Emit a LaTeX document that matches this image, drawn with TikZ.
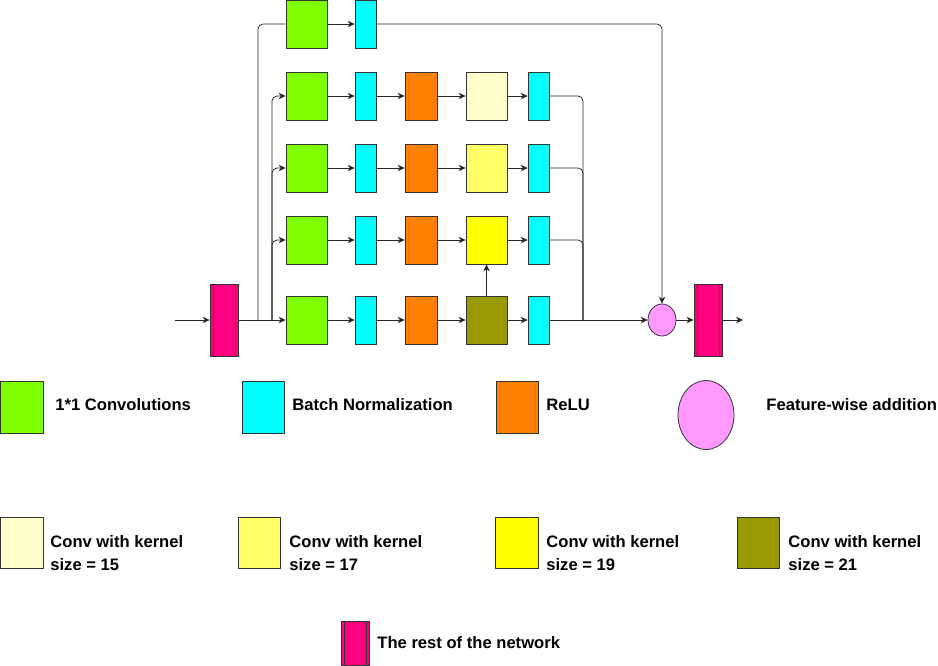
\documentclass[tikz,border=0pt]{standalone}
\usepackage{fontspec}
\setmainfont{Liberation Sans}
\usetikzlibrary{shapes.geometric, arrows.meta}
\definecolor{convgreen}{RGB}{128,255,0}
\definecolor{normcyan}{RGB}{0,255,255}
\definecolor{reluorange}{RGB}{255,128,0}
\definecolor{kfifteen}{RGB}{255,255,204}
\definecolor{kseventeen}{RGB}{255,255,102}
\definecolor{knineteen}{RGB}{255,255,0}
\definecolor{ktwentyone}{RGB}{153,153,0}
\definecolor{netpink}{RGB}{255,0,128}
\definecolor{addpink}{RGB}{255,153,255}
\tikzstyle{block} = [rectangle, draw = black!80, inner sep = 0pt, minimum
  height = 48pt]
\tikzstyle{conv} = [block, minimum width = 41pt, fill = convgreen]
\tikzstyle{norm} = [block, minimum width = 21pt, fill = normcyan]
\tikzstyle{relu} = [block, minimum width = 32pt, fill = reluorange]
\tikzstyle{kernel} = [block, minimum width = 41pt]
\tikzstyle{network} = [rectangle, draw = black!80, inner sep = 0pt, minimum
  width = 28pt, minimum height = 72pt, fill = netpink, path picture = {
    \draw [black!80] ([xshift = 3pt]path picture bounding box.north west) --
    ([xshift = 3pt]path picture bounding box.south west)
    ([xshift = -3pt]path picture bounding box.north east) --
    ([xshift = -3pt]path picture bounding box.south east);}]
\tikzstyle{addition} = [ellipse, draw = black!80, fill = addpink, inner sep =
  0pt, minimum width = 28pt, minimum height = 32pt]
\tikzstyle{keytext} = [anchor = west, align = left, inner sep = 0pt, text =
  black, font = \bfseries\fontsize{16.6}{23}\selectfont]
\tikzstyle{arrow} = [->, >={Stealth[length = 7pt, width = 6.5pt]}]
\tikzstyle{link} = [rounded corners = 5pt]

\begin{document}
\begin{tikzpicture}[x = 1pt, y = -1pt, line width = 0.8pt, color = black!85]
  \useasboundingbox (0, 0) rectangle (938, 665);

  % main blocks
  \coordinate (input) at (175, 320);
  \node (rest-1) [network] at (224, 320) {};
  \node (conv-1) [conv] at (306.5, 96) {};
  \node (norm-1a) [norm] at (365.5, 96) {};
  \node (relu-1) [relu] at (421, 96) {};
  \node (kernel-1) [kernel, fill = kfifteen] at (486.5, 96) {};
  \node (norm-1b) [norm] at (538.5, 96) {};

  \begin{scope}[node distance = 72pt]
    \node (conv-0) [conv, above of = conv-1] {};
    \node (norm-0) [norm, above of = norm-1a] {};
    \node (conv-2) [conv, below of = conv-1] {};
    \node (norm-2a) [norm, below of = norm-1a] {};
    \node (relu-2) [relu, below of = relu-1] {};
    \node (kernel-2) [kernel, fill = kseventeen, below of = kernel-1] {};
    \node (norm-2b) [norm, below of = norm-1b] {};
    \node (conv-3) [conv, below of = conv-2] {};
    \node (norm-3a) [norm, below of = norm-2a] {};
    \node (relu-3) [relu, below of = relu-2] {};
    \node (kernel-3) [kernel, fill = knineteen, below of = kernel-2] {};
    \node (norm-3b) [norm, below of = norm-2b] {};
  \end{scope}
  \begin{scope}[node distance = 80pt]
    \node (conv-4) [conv, below of = conv-3] {};
    \node (norm-4a) [norm, below of = norm-3a] {};
    \node (relu-4) [relu, below of = relu-3] {};
    \node (kernel-4) [kernel, fill = ktwentyone, below of = kernel-3] {};
    \node (norm-4b) [norm, below of = norm-3b] {};
  \end{scope}

  \node (sum) [addition] at (662, 320) {};
  \node (rest-2) [network] at (708, 320) {};
  \coordinate (output) at (743, 320);
  \coordinate (split-a) at (258, 320);
  \coordinate (split-b) at (272, 320);
  \coordinate (merge) at (583, 320);

  % connectors
  \draw [arrow] (input) -- (rest-1);
  \draw [arrow] (rest-1) -- (conv-4);
  \draw [link] (split-a) |- (conv-0);
  \draw [arrow, link] (split-b) |- (conv-1);
  \draw [arrow, link] (split-b) |- (conv-2);
  \draw [arrow, link] (split-b) |- (conv-3);
  \draw [arrow] (conv-0) -- (norm-0);
  \draw [arrow, link] (norm-0) -| (sum);

  \draw [arrow] (conv-1) -- (norm-1a);
  \draw [arrow] (norm-1a) -- (relu-1);
  \draw [arrow] (relu-1) -- (kernel-1);
  \draw [arrow] (kernel-1) -- (norm-1b);
  \draw [arrow] (conv-2) -- (norm-2a);
  \draw [arrow] (norm-2a) -- (relu-2);
  \draw [arrow] (relu-2) -- (kernel-2);
  \draw [arrow] (kernel-2) -- (norm-2b);
  \draw [arrow] (conv-3) -- (norm-3a);
  \draw [arrow] (norm-3a) -- (relu-3);
  \draw [arrow] (relu-3) -- (kernel-3);
  \draw [arrow] (kernel-3) -- (norm-3b);
  \draw [arrow] (conv-4) -- (norm-4a);
  \draw [arrow] (norm-4a) -- (relu-4);
  \draw [arrow] (relu-4) -- (kernel-4);
  \draw [arrow] (kernel-4) -- (norm-4b);
  \draw [arrow] (kernel-4) -- (kernel-3);

  \draw [link] (norm-1b) -| (merge);
  \draw [link] (norm-2b) -| (merge);
  \draw [link] (norm-3b) -| (merge);
  \draw [arrow] (norm-4b) -- (sum);
  \draw [arrow] (sum) -- (rest-2);
  \draw [arrow] (rest-2) -- (output);

  % legend
  \node (key-conv) [conv, minimum width = 43pt, minimum height = 52pt] at
    (21.5, 407) {};
  \node (text-conv) [keytext] at (55, 405) {1*1 Convolutions};
  \node (key-norm) [norm, minimum width = 42pt, minimum height = 52pt] at
    (263, 407) {};
  \node (text-norm) [keytext] at (292, 405) {Batch Normalization};
  \node (key-relu) [relu, minimum width = 42pt, minimum height = 52pt] at
    (517, 407) {};
  \node (text-relu) [keytext] at (546, 405) {ReLU};
  \node (key-sum) [addition, minimum width = 56pt, minimum height = 69pt] at
    (706, 415) {};
  \node (text-sum) [keytext] at (766, 405) {Feature-wise addition};

  \node (key-15) [kernel, fill = kfifteen, minimum width = 43pt, minimum
    height = 51pt] at (21.5, 543) {};
  \node (text-15) [keytext] at (50, 553) {Conv with kernel\\size = 15};
  \node (key-17) [kernel, fill = kseventeen, minimum width = 42pt, minimum
    height = 51pt] at (259, 543) {};
  \node (text-17) [keytext] at (289, 553) {Conv with kernel\\size = 17};
  \node (key-19) [kernel, fill = knineteen, minimum width = 43pt, minimum
    height = 51pt] at (516.5, 543) {};
  \node (text-19) [keytext] at (546, 553) {Conv with kernel\\size = 19};
  \node (key-21) [kernel, fill = ktwentyone, minimum width = 42pt, minimum
    height = 51pt] at (758, 543) {};
  \node (text-21) [keytext] at (788, 553) {Conv with kernel\\size = 21};

  \node (key-net) [network, minimum height = 44pt] at (355, 643) {};
  \node (text-net) [keytext] at (377, 643) {The rest of the network};
\end{tikzpicture}
\end{document}
